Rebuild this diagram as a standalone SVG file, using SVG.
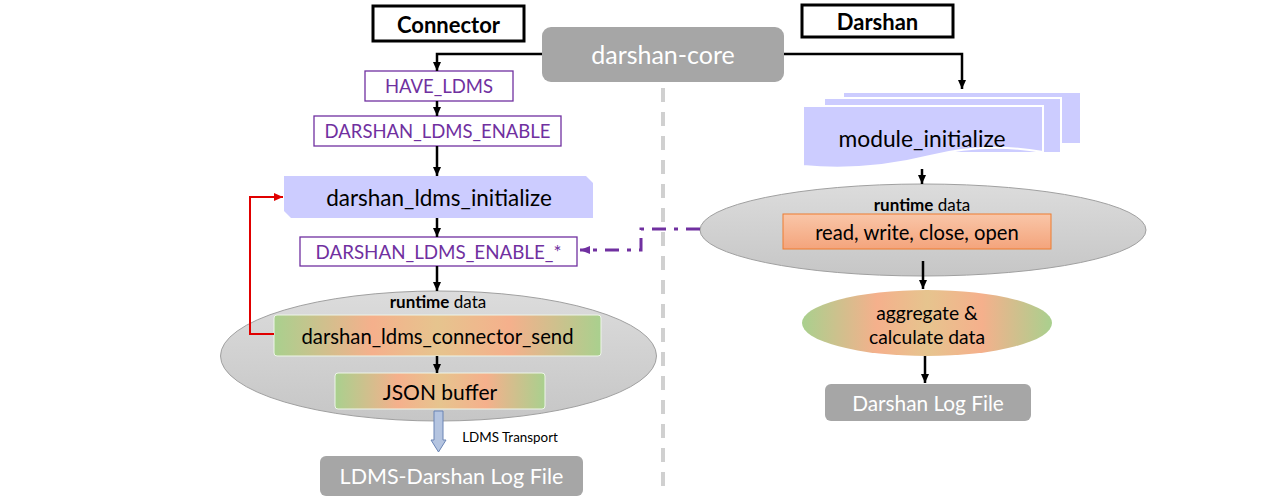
<svg xmlns="http://www.w3.org/2000/svg" width="1280" height="502" viewBox="0 0 1280 502">
<style>
text{font-family:Lato,"Open Sans","Liberation Sans",sans-serif;text-anchor:middle;dominant-baseline:central}
.hdr{fill:#fff;stroke:#000;stroke-width:3}
.hdrt{font-weight:bold;font-size:22px;fill:#000}
.pbox{fill:#fff;stroke:#7030a0;stroke-width:1.3}
.pt{fill:#7030a0;font-size:18.5px}
.gbox{fill:#a6a6a6}
.wt{fill:#fff;font-size:21.5px}
.arr{fill:none;stroke:#000;stroke-width:2.5}
.ell{fill:url(#gray);stroke:#a0a0a0;stroke-width:1}
.lav{fill:#ccccff}
.page{fill:#ccccff;stroke:#fff;stroke-width:2}
</style>
<defs>
<marker id="ah" markerWidth="10" markerHeight="10" refX="9" refY="5" orient="auto" markerUnits="userSpaceOnUse"><path d="M0,1 L9,5 L0,9 Z" fill="#000"/></marker>
<marker id="ahr" markerWidth="10" markerHeight="10" refX="9" refY="5" orient="auto" markerUnits="userSpaceOnUse"><path d="M0,1 L9,5 L0,9 Z" fill="#e00000"/></marker>
<marker id="ahp" markerWidth="12" markerHeight="10" refX="10" refY="5" orient="auto" markerUnits="userSpaceOnUse"><path d="M0,1 L10,5 L0,9 Z" fill="#7030a0"/></marker>
<linearGradient id="gray" x1="0" y1="0" x2="0" y2="1"><stop offset="0" stop-color="#dcdcdc"/><stop offset="1" stop-color="#c6c6c6"/></linearGradient>
<linearGradient id="mix" x1="0" y1="0" x2="1" y2="0"><stop offset="0" stop-color="#a9d08e"/><stop offset="0.3" stop-color="#f5b08c"/><stop offset="0.5" stop-color="#e6c48e"/><stop offset="0.72" stop-color="#f5b08c"/><stop offset="1" stop-color="#a9d08e"/></linearGradient>
<linearGradient id="sal" x1="0" y1="0" x2="0" y2="1"><stop offset="0" stop-color="#f9c6a8"/><stop offset="1" stop-color="#f4a47c"/></linearGradient>
</defs>

<line x1="663" y1="88" x2="663" y2="495" stroke="#d0d0d0" stroke-width="4" stroke-dasharray="14 10"/>

<g id="connector-header"><rect class="hdr" x="373" y="6" width="151" height="35"/><text class="hdrt" x="448.5" y="24">Connector</text></g>
<g id="darshan-header"><rect class="hdr" x="802" y="5" width="151" height="32"/><text class="hdrt" x="877.5" y="21.5">Darshan</text></g>
<g id="darshan-core"><rect class="gbox" x="542" y="27" width="242" height="55" rx="9"/><text class="wt" x="663" y="54" style="font-size:25px">darshan-core</text></g>

<g id="have-ldms"><rect class="pbox" x="365" y="71" width="148" height="30"/><text class="pt" x="439" y="86">HAVE_LDMS</text></g>
<g id="ldms-enable"><rect class="pbox" x="314" y="116" width="247" height="30"/><text class="pt" x="437.5" y="131">DARSHAN_LDMS_ENABLE</text></g>
<g id="ldms-initialize"><path class="lav" d="M284,176 H586 L593,183 V218 H291 L284,211 Z"/><text x="439" y="197" style="font-size:22.5px;fill:#000">darshan_ldms_initialize</text></g>
<g id="ldms-enable-star"><rect class="pbox" x="300" y="237" width="277" height="29"/><text class="pt" x="438.5" y="251.5" style="font-size:18.8px">DARSHAN_LDMS_ENABLE_*</text></g>

<g id="runtime-left"><ellipse class="ell" cx="438.5" cy="356" rx="218" ry="65"/><text x="438" y="301" style="font-size:17px;fill:#000"><tspan font-weight="bold">runtime</tspan> data</text></g>
<g id="connector-send"><rect x="274" y="315" width="327" height="41" rx="3" fill="url(#mix)" stroke="#eef5e8" stroke-width="1"/><text x="437.5" y="336" style="font-size:20.3px;fill:#000">darshan_ldms_connector_send</text></g>
<g id="json-buffer"><rect x="335" y="373" width="210" height="36" rx="3" fill="url(#mix)" stroke="#eef5e8" stroke-width="1"/><text x="440" y="391" style="font-size:21px;fill:#000">JSON buffer</text></g>
<g id="ldms-log"><rect class="gbox" x="320" y="456" width="263" height="40" rx="6"/><text class="wt" x="451.5" y="476">LDMS-Darshan Log File</text></g>
<g id="transport-label"><text x="510" y="437" style="font-size:13.4px;fill:#000">LDMS Transport</text></g>

<g id="module-initialize">
<rect class="page" x="843" y="92" width="238" height="52"/>
<rect class="page" x="824" y="98" width="237" height="55"/>
<path class="page" d="M803,106 H1043 V152 C1010,146 970,146 930,156 C890,166 845,170 803,166 Z"/>
<text x="922" y="138" style="font-size:22.8px;fill:#000">module_initialize</text>
</g>
<g id="runtime-right"><ellipse class="ell" cx="923" cy="230" rx="223" ry="46"/><text x="922" y="204" style="font-size:17px;fill:#000"><tspan font-weight="bold">runtime</tspan> data</text></g>
<g id="rwco"><rect x="783" y="214" width="268" height="35" fill="url(#sal)" stroke="#ed7d31" stroke-width="1"/><text x="917" y="231.5" style="font-size:20.2px;fill:#000">read, write, close, open</text></g>
<g id="aggregate"><ellipse cx="927" cy="323" rx="125" ry="33" fill="url(#mix)"/><text x="927" y="312" style="font-size:19.3px;fill:#000">aggregate &amp;</text><text x="927" y="336" style="font-size:19.3px;fill:#000">calculate data</text></g>
<g id="darshan-log"><rect class="gbox" x="825" y="384" width="206" height="37" rx="6"/><text class="wt" x="928" y="402.5" style="font-size:20.8px">Darshan Log File</text></g>

<g id="connectors">
<path class="arr" d="M542,54 H437 V71" marker-end="url(#ah)"/>
<path class="arr" d="M437,101 V116" marker-end="url(#ah)"/>
<path class="arr" d="M437,146 V176" marker-end="url(#ah)"/>
<path class="arr" d="M437,218 V237" marker-end="url(#ah)"/>
<path class="arr" d="M437,266 V291" marker-end="url(#ah)"/>
<path class="arr" d="M437,356 V373" marker-end="url(#ah)"/>
<path class="arr" d="M784,54 H962 V89" marker-end="url(#ah)"/>
<path class="arr" d="M922,169 V184" marker-end="url(#ah)"/>
<path class="arr" d="M923,261 V289" marker-end="url(#ah)"/>
<path class="arr" d="M925,356 V383" marker-end="url(#ah)"/>
<path d="M274,334 H250 V197 H283" fill="none" stroke="#e00000" stroke-width="2" marker-end="url(#ahr)"/>
<path d="M700,229 H641 V250 H580" fill="none" stroke="#7030a0" stroke-width="3" stroke-dasharray="14 8 4 8" marker-end="url(#ahp)"/>
<path d="M434,411 H443 V440 H446 L438.5,452 L431,440 H434 Z" fill="#b4c4e0" stroke="#6a84b4" stroke-width="1"/>
</g>
</svg>
